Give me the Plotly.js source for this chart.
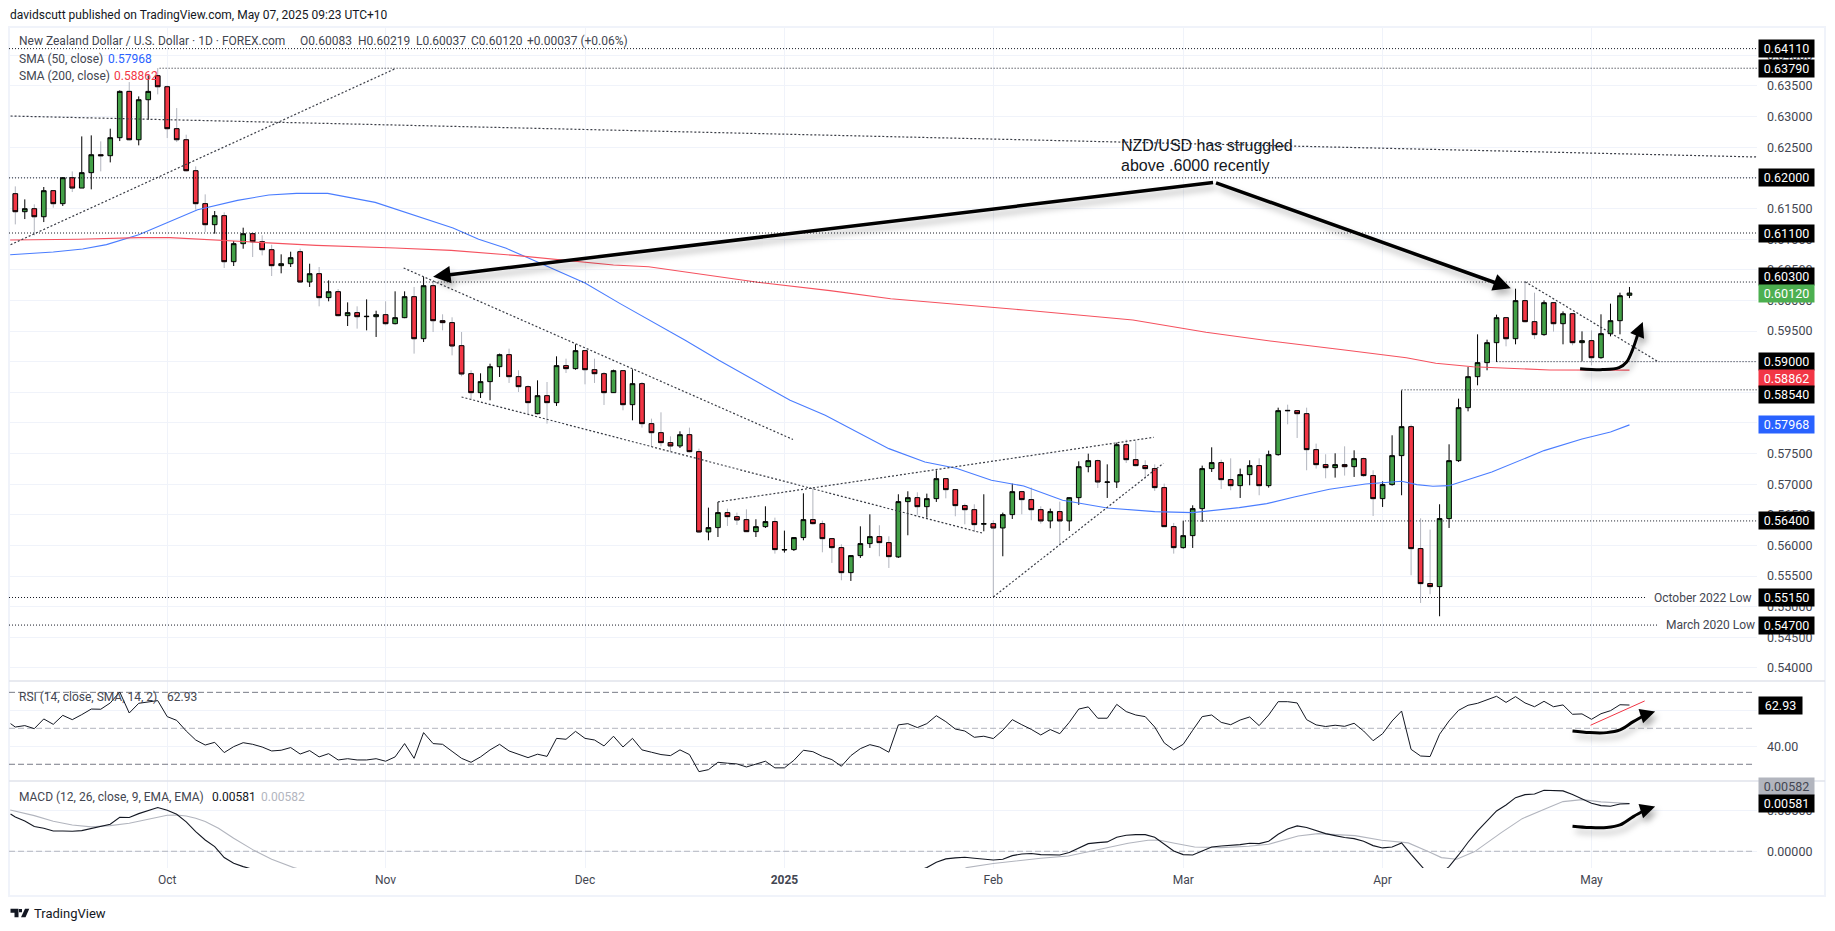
<!DOCTYPE html>
<html><head><meta charset="utf-8">
<script src="https://cdn.plot.ly/plotly-3.0.1.min.js"></script>
<style>html,body{margin:0;padding:0;background:#fff}#c{width:1835px;height:931px}
.annotation-arrow-g{filter:drop-shadow(3px 5px 3px rgba(0,0,0,.28))}
path.js-line[style*="stroke-width: 3px"]{filter:drop-shadow(3px 5px 3px rgba(0,0,0,.28))}</style></head>
<body><div id="c"></div>
<script>
const opens=[.61742,.61448,.61497,.61366,.61791,.61579,.62003,.61834,.62085,.62378,.62362,.62656,.63412,.62623,.63276,.63668,.63488,.62803,.62623,.62117,.61579,.61236,.61383,.60632,.60926,.61089,.60958,.60828,.60567,.60599,.60795,.603,.60436,.60045,.60142,.59751,.598,.59734,.59734,.59767,.5962,.59718,.60061,.59375,.6024,.59669,.59637,.59261,.58804,.58494,.58674,.58918,.59114,.58755,.58592,.58151,.58445,.58331,.58935,.58886,.5918,.58869,.58804,.58494,.58853,.58298,.58641,.57988,.57841,.57678,.57624,.57808,.57531,.5622,.56291,.56536,.5647,.56421,.56225,.56307,.56389,.55925,.55932,.56128,.56421,.56356,.56111,.55964,.55556,.55834,.5603,.56144,.56046,.55812,.56715,.5678,.56633,.56764,.5709,.56911,.5665,.56584,.56346,.56356,.56285,.56503,.56878,.56748,.56584,.564,.56552,.564,.5678,.57286,.57384,.5703,.57036,.57645,.574,.57303,.57254,.56944,.56307,.55964,.5616,.56601,.57254,.57352,.57074,.56976,.57156,.57303,.56976,.57482,.58205,.582,.58151,.57564,.57319,.5727,.57319,.57286,.57417,.5714,.56764,.56993,.57466,.57939,.55948,.55377,.55328,.56438,.57384,.58249,.58755,.58984,.5931,.59718,.59375,.59996,.59653,.59441,.59963,.5962,.59783,.5931,.59343,.59065,.59457,.59669,.60083];
const closes=[.61448,.61497,.61366,.61791,.61579,.62003,.61834,.62085,.62378,.62362,.62656,.63412,.62623,.63276,.63412,.63488,.62803,.62623,.62117,.61579,.61236,.61383,.60632,.60926,.61089,.60958,.60828,.60567,.60599,.60697,.603,.60436,.60045,.60142,.59751,.598,.59734,.5974,.59767,.5962,.59718,.60061,.59375,.6024,.59669,.59637,.59256,.58799,.58494,.58674,.58918,.59114,.58755,.58592,.58331,.58445,.58331,.58935,.58886,.5918,.58869,.58804,.58494,.58853,.58298,.58641,.57988,.57841,.57678,.57624,.57808,.57531,.5622,.56291,.56536,.5647,.56416,.56225,.56307,.56389,.55932,.55932,.56128,.56421,.56356,.56111,.55964,.55556,.55834,.5603,.56144,.56046,.55817,.56715,.5678,.56633,.56764,.5709,.56911,.5665,.56584,.5634,.56356,.56285,.56503,.56878,.56748,.56584,.564,.56552,.564,.5678,.57286,.57384,.57036,.57036,.57645,.574,.57303,.57254,.56944,.56307,.55964,.5616,.56601,.57254,.57352,.57074,.56976,.57156,.57303,.56976,.57482,.582,.582,.58151,.57564,.57319,.5727,.57319,.57286,.57417,.5714,.56764,.56993,.57466,.57939,.55948,.55377,.55328,.56438,.57384,.58249,.58755,.58984,.5931,.59718,.59375,.59996,.59653,.59441,.59963,.5962,.59783,.5931,.59343,.59065,.59457,.59669,.60077,.6012];
const highs=[.61861,.61649,.61568,.61851,.61795,.62014,.62106,.62677,.62694,.62596,.62803,.63428,.63564,.6333,.63673,.63793,.6351,.6314,.62705,.62188,.61731,.61459,.61437,.60969,.61187,.61095,.61062,.60909,.60752,.60795,.60844,.60599,.60545,.60327,.60186,.59968,.59903,.60017,.59832,.59985,.60148,.60148,.60219,.60382,.603,.59773,.59724,.59484,.58859,.5881,.58967,.59131,.59212,.58859,.58614,.58695,.58668,.59087,.59049,.59283,.5919,.59049,.58831,.58869,.5886,.58875,.58668,.5807,.58173,.57781,.57863,.57923,.5758,.56617,.5671,.56601,.56536,.5659,.56427,.56639,.56454,.56242,.56135,.56851,.56927,.56405,.56118,.56019,.5584,.56312,.56508,.56329,.56149,.56835,.56884,.56867,.56846,.57226,.57095,.56915,.56682,.56672,.56835,.5641,.56536,.57009,.5689,.56944,.56639,.56601,.56715,.56785,.57373,.57498,.574,.57324,.57678,.57727,.577,.5739,.57324,.57009,.56367,.56405,.56655,.57303,.57602,.574,.57422,.57254,.5739,.57422,.57548,.58249,.58298,.5821,.58249,.57662,.57488,.57504,.57618,.57553,.57433,.57227,.57047,.57798,.58532,.57972,.56443,.56258,.56672,.57651,.58396,.58913,.59446,.59359,.59767,.5973,.60191,.60306,.60126,.60001,.5997,.59821,.5979,.59495,.59511,.59773,.59947,.60126,.60219];
const lows=[.61241,.61328,.61062,.61279,.61513,.61541,.61769,.61834,.61813,.62106,.62253,.62601,.62612,.62531,.62949,.63363,.6265,.62585,.62106,.61481,.61116,.61089,.60529,.60561,.60844,.60708,.60735,.60398,.60442,.60545,.60289,.60219,.59903,.59985,.5974,.59582,.59539,.59511,.59403,.59593,.59609,.5971,.59131,.59321,.59484,.59511,.59103,.58761,.5838,.58407,.58369,.5875,.58652,.58505,.58151,.58141,.57988,.58277,.58815,.58869,.5863,.58652,.58293,.5849,.58206,.58042,.57923,.57618,.57618,.57536,.57591,.5752,.56204,.56084,.56138,.56318,.56334,.5622,.56138,.56285,.55866,.55883,.5591,.56084,.5634,.55888,.55714,.55431,.5542,.55796,.55959,.55823,.55632,.55796,.56166,.56492,.56454,.5671,.56769,.56476,.56345,.5622,.56231,.55159,.55823,.56432,.56508,.5641,.56356,.5628,.56019,.56236,.56661,.57194,.56938,.56775,.56938,.57346,.57292,.5709,.56889,.56301,.55866,.55948,.55959,.56383,.57199,.56922,.569,.56775,.56982,.56819,.56944,.57466,.57977,.57754,.57227,.57254,.57096,.57107,.5714,.57118,.57118,.56481,.56628,.56976,.56819,.55513,.55061,.55203,.54844,.56285,.57363,.58189,.58614,.58859,.58995,.5925,.59283,.59642,.5937,.59424,.5949,.59283,.59267,.59005,.5894,.59049,.59413,.59446,.60037];
const bars=opens.map((_,i)=>i);

const sma50Bar=[-0.54,4,7.1,9.6,13,16.3,19.2,23.4,26.7,29.6,32.9,37.9,42.1,46.1,48.8,51.7,53.8,56.7,60,63.7,70.55,74.1,77.8,81.6,85.3,88.7,92,95.8,99.1,102.8,106.2,110.3,115,120,122.8,124,128.9,131.8,134.7,138.4,142.2,146,147.6,149.3,151,155.5,161,165,168,170];
const sma50=[.60746,.6079,.60839,.6091,.61073,.6129,.61481,.61633,.6172,.61747,.61747,.616,.61388,.61181,.60997,.6085,.60708,.60512,.60284,.59947,.59348,.59022,.58695,.58369,.58124,.57852,.5758,.57362,.57259,.57063,.56971,.56737,.56612,.56552,.56536,.56536,.56617,.56683,.56791,.56917,.57003,.57047,.56993,.56965,.56976,.57199,.57548,.57738,.57852,.57968];
const sma200Bar=[-0.54,6.7,13,16.3,25,31.7,40,45.9,52.6,58.8,63,66.7,71.8,78.2,85.8,92.2,106.2,117.7,125.4,132.4,140,146.5,149.6,153.5,161.6,165.5,170];
const sma200=[.60986,.60997,.61024,.61024,.60953,.60899,.60855,.60817,.60735,.60643,.60578,.6055,.60436,.60296,.60159,.60028,.59843,.5968,.59479,.59332,.5919,.59065,.58973,.58918,.58864,.58864,.58862];

const rsiBar=[-0.5].concat(bars);
const rsi=[52.6,50.7,51.5,49.8,55.2,52.2,57.2,54.8,57.6,60.7,60.6,64.1,70.2,58.5,63.9,64.8,65.4,56.5,54.4,48.5,43.5,40.7,42.2,36.5,39.8,42,41.1,39.6,37.4,37.8,39.3,35.7,37.6,34.1,35.9,32.4,33.1,32.4,32.4,33.1,31.7,34.1,41.5,33.3,47.6,41.5,41.1,37.2,33.3,31.1,34.1,38,41.1,37.4,35.6,33.7,35.6,34.4,44.4,43.9,48.3,44.4,43.5,40.2,45.6,39.6,44.4,38,36.7,35.4,34.8,38,35.4,25.9,27,31.1,30.6,30.2,28.5,30.2,31.7,28,28,32.2,37.8,37,34.4,32.6,28.9,34.8,38.7,40.9,39.6,36.7,51.9,52.6,50.4,52.6,57,53.7,49.6,48.5,45,45.6,44.3,48.9,54.8,52,49.4,46.3,49.3,47,53.3,60.7,61.9,55.6,55.6,63.3,59.3,57.4,56.5,50.7,41.9,38,41.1,48.9,56.5,57.4,53.3,52,54.6,56.3,51.5,57.4,64.8,64.8,64.1,54.8,51.9,51,51.7,51.1,52.8,48.5,43.1,47,54.1,59.6,38.3,34.6,34.3,46.7,54.1,60,62.8,63.9,65.9,67.8,64.4,67.6,64.1,62,65,62,63,57.8,58,55,58.1,59.8,63.1,62.93];

const macdBar=[-0.5,0,1,2,3,4,5,6,7,8,9,10,11,12,13,14,15,16,17,18,19,20,21,22,23,24,25,null,95,96,97,98,99,100,101,102,103,104,105,106,107,108,109,110,111,112,113,114,115,116,117,118,119,120,121,122,123,124,125,126,127,128,129,130,131,132,133,134,135,136,137,138,139,140,141,142,143,144,145,146,147,148,149,150,151,152,153,154,155,156,157,158,159,160,161,162,163,164,165,166,167,168,169,170];
const macd=[.00455,.00419,.0037,.00301,.0028,.00248,.00248,.00244,.00252,.0028,.00301,.00329,.00415,.00411,.00459,.005,.00533,.005,.00451,.00358,.0024,.00138,.00057,-.00077,-.00146,-.00187,-.0022,null,-.0024,-.00199,-.00134,-.00093,-.00081,-.00073,-.00085,-.00098,-.00106,-.00098,-.00053,-.00033,-.00028,-.00041,-.00041,-.00045,-.00016,.00041,.00093,.00106,.00114,.00171,.00195,.00203,.00203,.00171,.00085,.00004,-.00041,-.00045,.00004,.00053,.00065,.00069,.00081,.00098,.00093,.00122,.00207,.00272,.00309,.00289,.00252,.00215,.00191,.00167,.00154,.00122,.00069,.00041,.00053,.00102,-.00037,-.00167,-.00301,-.0028,-.00187,-.00045,.0011,.00248,.0037,.00492,.00565,.00654,.00691,.00699,.00744,.00736,.00736,.00691,.00642,.00585,.00557,.00549,.00577,.00581];
const signalBar=[-0.53,2,4,6,8,10,12,14,16,17,18,19,20,21.4,23,25,27,29.3,30,null,100,100.2,103,108,110.9,114.4,117.2,119.3,120.4,122.1,124.2,127,129.9,132,135.1,137.2,141.1,143.9,146.7,148.8,150.2,151.8,153.7,156.5,158.7,161.6,163,165,167,170];
const signal=[.00504,.00435,.00366,.00321,.00297,.00313,.00341,.0039,.00439,.00443,.00431,.00402,.00362,.0028,.00159,.0002,-.00098,-.00199,-.0022,null,-.0021,-.00199,-.0015,-.00085,-.00057,.00024,.00098,.00134,.00138,.00098,.00053,.00045,.00061,.00085,.00187,.00215,.00191,.00134,.00102,-.00004,-.00077,-.00098,-.00004,.00228,.00398,.00541,.00606,.0063,.00602,.00582];

const levelValues=[.6411,.6379,.62,.611,.603,.59,.5854,.564,.5515,.547];
const levelStart=[-0.66,15.2,-0.66,-0.66,32.5,156,146,123.2,-0.66,-0.66];
const levelEnd=[183.43,183.43,183.43,183.43,183.43,183.43,183.43,183.43,171.7,173];

const trendBars=[[-0.5,40],[-0.5,183.4],[40.9,81.9],[47,101.8],[74,119.9],[103,120.9],[159,172.9]];
const trendVals=[[.60909,.63782],[.6301,.62341],[.60529,.5773],[.58423,.56204],[.5671,.57765],[.55159,.57341],[.60306,.59011]];

const priceCurveBar=[164.8,167.2,168.9,169.7,170.3,170.9];
const priceCurve=[.58886,.5887,.58902,.58995,.59185,.59457];
const rsiCurveBar=[164,165.8,167.6,169,170.4,171.8];
const rsiCurve=[48.5,47.6,47.6,49.1,53.7,57.8];
const macdCurveBar=[164,165.8,167.6,169,170.4,171.8];
const macdCurve=[.00305,.00289,.00289,.00321,.00423,.00512];

const priceTicks=[.54,.545,.55,.555,.56,.565,.57,.575,.58,.585,.59,.595,.6,.605,.61,.615,.62,.625,.63,.635,.64];
const monthBars=[16,39,60,81,103,123,144,166];
const monthLabels=['Oct','Nov','Dec','<b>2025</b>','Feb','Mar','Apr','May'];

const tagValues=[.6411,.6379,.62,.611,.603,.6012,.59,.58862,.5854,.57968,.564,.5515,.547];
const tagLabels=['0.64110','0.63790','0.62000','0.61100','0.60300','0.60120','0.59000','0.58862','0.58540','0.57968','0.56400','0.55150','0.54700'];
const tagColors=['#000','#000','#000','#000','#000','#4caf50','#000','#f23645','#000','#2962ff','#000','#000','#000'];
const tagShift=[0,0,0,0,5.5,0,0,-8,-5,0,0,0,0];

const W=1835,H=931;
const PX=x=>x/W, PY=y=>1-y/H;
const FONT='Roboto, sans-serif', TXT='#434651';
const GREEN='#43a047', RED='#f23645', WICK='#b2b5be', GRID='#f0f3fa';

const base={hoverinfo:'skip',showlegend:false};
const line=(x,y,color,width,dash,yaxis,extra)=>Object.assign({type:'scatter',mode:'lines',x,y,xaxis:'x',yaxis:yaxis||'y',line:Object.assign({color,width,dash:dash||'solid'},extra||{})},base);

const bear=bars.filter(i=>closes[i]<opens[i]);
const traces=[
 Object.assign({type:'candlestick',x:bars,open:opens,high:highs,low:lows,close:closes,xaxis:'x',yaxis:'y',whiskerwidth:0,
  increasing:{line:{color:'#000',width:1},fillcolor:GREEN},
  decreasing:{line:{color:WICK,width:1},fillcolor:RED}},base),
 Object.assign({type:'candlestick',x:bear,open:bear.map(i=>opens[i]),high:bear.map(i=>opens[i]),low:bear.map(i=>closes[i]),close:bear.map(i=>closes[i]),xaxis:'x',yaxis:'y',whiskerwidth:0,
  increasing:{line:{color:'#000',width:1},fillcolor:GREEN},
  decreasing:{line:{color:'#000',width:1},fillcolor:RED}},base),
 line(sma50Bar,sma50,'#4a7dff',1.1),
 line(sma200Bar,sma200,'#f5525f',1.1)
];
levelValues.forEach((v,k)=>traces.push(line([levelStart[k],levelEnd[k]],[v,v],'#131722',1,'1px,2px')));
trendBars.forEach((b,k)=>traces.push(line(b,trendVals[k],'#3a3d46',1.2,'2px,2px')));
traces.push(line(priceCurveBar,priceCurve,'#000',3,'solid','y',{shape:'spline'}));
// RSI pane
traces.push(line([-0.66,183],[70,70],'#787b86',1,'6px,3px','y2'));
traces.push(line([-0.66,183],[50,50],'#b2b5be',1,'6px,3px','y2'));
traces.push(line([-0.66,183],[30,30],'#787b86',1,'6px,3px','y2'));
traces.push(line(rsiBar,rsi,'#131722',1,'solid','y2'));
traces.push(line([165.9,171.6],[51.7,65.2],'#f23645',1,'solid','y2'));
traces.push(line(rsiCurveBar,rsiCurve,'#000',3,'solid','y2',{shape:'spline'}));
// MACD pane
traces.push(line([-0.66,183],[0,0],'#b2b5be',1,'6px,3px','y3'));
traces.push(line(signalBar,signal,'#b2b5be',1.1,'solid','y3'));
traces.push(line(macdBar,macd,'#131722',1.1,'solid','y3'));
traces.push(line(macdCurveBar,macdCurve,'#000',3,'solid','y3',{shape:'spline'}));

const label=(x,y,text,color,size,family)=>({xref:'paper',yref:'paper',x:PX(x),y:PY(y),xanchor:'left',yanchor:'middle',showarrow:false,text,align:'left',borderpad:0,font:{family:family||FONT,size:size||12,color:color||TXT}});
const arrow=(x,y,ax,ay,yref,w)=>({xref:'x',yref:yref||'y',axref:'x',ayref:yref||'y',x,y,ax,ay,text:'',showarrow:true,arrowhead:2,arrowsize:1,arrowwidth:w||3,arrowcolor:'#000',standoff:0,startstandoff:0});
const tag=(yref,v,text,bg,fg,shift,w)=>({xref:'paper',yref,x:PX(1758),y:v,yshift:shift||0,xanchor:'left',yanchor:'middle',showarrow:false,text,width:w||55,height:17,align:'center',valign:'middle',borderpad:0,bgcolor:bg,font:{family:FONT,size:12.5,color:fg||'#fff'}});

const annotations=[
 label(9,14.5,'davidscutt published on TradingView.com, May 07, 2025 09:23 UTC+10','#131722'),
 label(18,41.5,'New Zealand Dollar / U.S. Dollar · 1D · FOREX.com'),
 label(299,41.5,'O0.60083'),label(357,41.5,'H0.60219'),label(414.5,41.5,'L0.60037'),label(470,41.5,'C0.60120'),label(526,41.5,'+0.00037 (+0.06%)'),
 label(18,59,'SMA (50, close)'),label(107,59,'0.57968','#2962ff'),
 label(18,76,'SMA (200, close)'),label(113,76,'0.58862','#f23645'),
 label(18,697,'RSI (14, close, SMA, 14, 2)'),label(166,697,'62.93'),
 label(18,797,'MACD (12, 26, close, 9, EMA, EMA)'),label(211,797,'0.00581','#131722'),label(260,797,'0.00582','#b2b5be'),
 label(1120,146,'NZD/USD has struggled','#131722',16,'"Liberation Sans", Arial, sans-serif'),
 label(1120,165,'above .6000 recently','#131722',16,'"Liberation Sans", Arial, sans-serif'),
 label(1653,598,'October 2022 Low'),label(1665,625,'March 2020 Low'),
 label(33,913,'TradingView','#131722',13),
 arrow(44,.60387,126.3,.61928,'y',3.5),arrow(157.5,.60198,126.3,.61928,'y',3.5),
 arrow(171.4,.59647,170.9,.59457),
 arrow(172.7,59.3,171.8,57.8,'y2'),arrow(172.7,.00545,171.8,.00512,'y3'),
 tag('y2',62.93,'62.93','#000','#fff',0,43),
 tag('paper',PY(786.5),'0.00582','#b2b5be','#434651'),
 tag('y3',.00581,'0.00581','#000','#fff')
];
tagValues.forEach((v,k)=>annotations.push(tag('y',v,tagLabels[k],tagColors[k],'#fff',tagShift[k])));

const logo='M '+[[10.5,908.7],[18.5,908.7],[18.5,917.3],[14.5,917.3],[14.5,912.7],[10.5,912.7]].map(p=>PX(p[0])+' '+PY(p[1])).join(' L ')+' Z '+
 'M '+[[19,908.9],[22,908.9],[22,912.2],[19,912.2]].map(p=>PX(p[0])+' '+PY(p[1])).join(' L ')+' Z '+
 'M '+[[25,908.7],[29.3,908.7],[25.5,917.3],[21,917.3]].map(p=>PX(p[0])+' '+PY(p[1])).join(' L ')+' Z';

const shapes=[
 {type:'rect',xref:'paper',yref:'paper',x0:PX(9),x1:PX(1825),y0:PY(27),y1:PY(896),line:{color:GRID,width:2},layer:'below'},
 {type:'line',xref:'paper',yref:'paper',x0:PX(9),x1:PX(1825),y0:PY(681),y1:PY(681),line:{color:'#e0e3eb',width:1.5}},
 {type:'line',xref:'paper',yref:'paper',x0:PX(9),x1:PX(1825),y0:PY(781),y1:PY(781),line:{color:'#e0e3eb',width:1.5}},
 {type:'path',xref:'paper',yref:'paper',path:logo,fillcolor:'#131722',line:{width:0}}
];

const yBase={side:'right',anchor:'x',showline:false,zeroline:false,ticks:'',gridcolor:GRID,gridwidth:1,tickmode:'array',ticklabelstandoff:9,tickfont:{family:FONT,size:12.5,color:TXT},fixedrange:true};
const layout={
 width:W,height:H,margin:{l:0,r:0,t:0,b:0,pad:0},paper_bgcolor:'#fff',plot_bgcolor:'#fff',showlegend:false,
 xaxis:{domain:[PX(9),PX(1757)],range:[-0.663,183.43],anchor:'y3',rangeslider:{visible:false},tickmode:'array',tickvals:monthBars,ticktext:monthLabels,ticks:'',ticklabelstandoff:3,gridcolor:GRID,gridwidth:1,showline:false,zeroline:false,tickfont:{family:FONT,size:12,color:TXT},fixedrange:true},
 yaxis:Object.assign({},yBase,{domain:[PY(681),PY(27)],range:[.53787,.64463],tickvals:priceTicks,ticktext:priceTicks.map(v=>v.toFixed(5))}),
 yaxis2:Object.assign({},yBase,{domain:[PY(781),PY(681)],range:[20.7,76.3],tickvals:[40,60],ticktext:['40.00','']}),
 yaxis3:Object.assign({},yBase,{domain:[PY(868),PY(781)],range:[-.00204,.00857],tickvals:[0,.005],ticktext:['0.00000','0.00500']}),
 annotations,shapes
};
Plotly.newPlot('c',traces,layout,{staticPlot:true,displayModeBar:false});
</script></body></html>
